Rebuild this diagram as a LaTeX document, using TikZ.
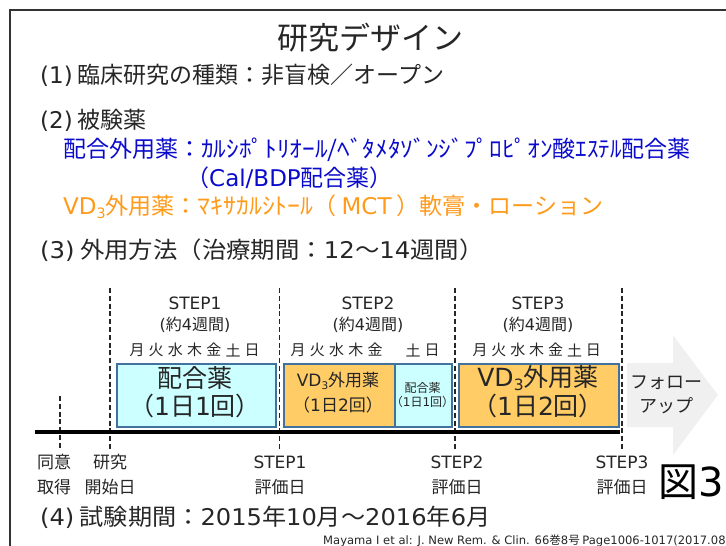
\documentclass[tikz,border=0pt]{standalone}
\usepackage{fontspec}
\setmainfont{Noto Sans CJK JP}
\newfontfamily\latf{DejaVu Sans}
\newcommand\lat[1]{{\latf #1}}
\definecolor{txtc}{HTML}{262626}
\definecolor{bluet}{HTML}{0A0ACC}
\definecolor{oranget}{HTML}{FF9A1A}
\definecolor{cyanf}{HTML}{CCFFFF}
\definecolor{orangef}{HTML}{FFCC66}
\definecolor{bordc}{HTML}{41719C}
\definecolor{arrowf}{HTML}{F0F0F0}
\newcommand\fs[1]{\fontsize{#1}{#1}\selectfont}
\newcommand\vdsub{\lat{VD\raisebox{-0.28ex}{\scalebox{0.62}{3}}}}
\newcommand\wide[2]{\scalebox{#1}[1]{#2}}
\begin{document}
\begin{tikzpicture}[x=1pt,y=-1pt,
  lbl/.style={inner sep=0pt,text=txtc},
  lft/.style={inner sep=0pt,anchor=west,text=txtc},
  dashv/.style={line width=1.8pt,dash pattern=on 5pt off 2.8pt,draw=txtc},
  cbox/.style={draw=bordc,line width=1.6pt,fill=cyanf,anchor=north west,inner sep=0pt},
  obox/.style={draw=bordc,line width=1.6pt,fill=orangef,anchor=north west,inner sep=0pt},
  day/.style={inner sep=0pt,text=txtc,font=\fs{15}}]
\useasboundingbox (0,0) rectangle (726,546);
% frame
\coordinate (fa) at (10,560);
\coordinate (fb) at (10,10);
\coordinate (fc) at (740,10);
\draw[line width=1.5pt,draw=black!80] (fa) -- (fb) -- (fc);
% texts
\node[lbl,font=\fs{31}] (title) at (370,38) {研究デザイン};
\node[lft,font=\fs{23}] (l1) at (40,75) {\lat{(1)} 臨床研究の種類：非盲検／オープン};
\node[lft,font=\fs{23}] (l2) at (40,120) {\lat{(2)} 被験薬};
\node[lft,font=\fs{23},text=bluet] (l2a) at (63,150) {配合外用薬：\wide{1.1}{ｶﾙｼﾎﾟﾄﾘｵｰﾙ/ﾍﾞﾀﾒﾀｿﾞﾝｼﾞﾌﾟﾛﾋﾟｵﾝ}酸ｴｽﾃﾙ配合薬};
\node[lft,font=\fs{23},text=bluet] (l2b) at (186,178) {（\lat{Cal/BDP}配合薬）};
\node[lft,font=\fs{23},text=oranget] (l2c) at (63,207) {\vdsub 外用薬：\wide{1.12}{ﾏｷｻｶﾙｼﾄｰﾙ}（\hspace{5pt}\lat{MCT}\hspace{5pt}）軟膏・ローション};
\node[lft,font=\fs{23}] (l3) at (40,250) {\wide{1.06}{\lat{(3)} 外用方法（治療期間：\lat{12}〜\lat{14}週間）}};
\node[lft,font=\fs{23}] (l4) at (40,517) {\wide{1.05}{\lat{(4)} 試験期間：\lat{2015}年\lat{10}月〜\lat{2016}年\lat{6}月}};
\node[inner sep=0pt,anchor=west,font=\fs{11.55},text=txtc] (cite) at (323,541) {\lat{Mayama I et al: J. New Rem. \& Clin. 66}巻\lat{8}号 \lat{Page1006-1017(2017.08)}};
% follow-up arrow
\fill[arrowf] (627,363) -- (673,363) -- (673,335) -- (718,395) -- (673,455) -- (673,427) -- (627,427) -- cycle;
\node[lbl,font=\fs{18}] (fu1) at (666,383) {フォロー};
\node[lbl,font=\fs{18}] (fu2) at (666,406) {アップ};
% boxes
\node[cbox,minimum width=159pt,minimum height=63pt] (b1) at (116,363) {};
\node[obox,minimum width=111pt,minimum height=63pt] (b2) at (283,363) {};
\node[cbox,minimum width=57pt,minimum height=63pt] (b2s) at (394,363) {};
\node[obox,minimum width=160pt,minimum height=63pt] (b3) at (458,363) {};
\node[lbl,font=\fs{25}] (b1t1) at (195,378) {配合薬};
\node[lbl,font=\fs{25}] (b1t2) at (195,406) {（\lat{1}日\lat{1}回）};
\node[lbl,font=\fs{17}] (b2t1) at (338,381) {\vdsub 外用薬};
\node[lbl,font=\fs{17}] (b2t2) at (338,405) {（\lat{1}日\lat{2}回）};
\node[lbl,font=\fs{12}] (b2st1) at (422.5,388) {配合薬};
\node[lbl,font=\fs{12}] (b2st2) at (422.5,402) {（\lat{1}日\lat{1}回）};
\node[lbl,font=\fs{25}] (b3t1) at (538,378) {\vdsub 外用薬};
\node[lbl,font=\fs{25}] (b3t2) at (538,406) {（\lat{1}日\lat{2}回）};
% step labels
\node[lbl,font=\fs{17}] (s1) at (195,303) {\lat{STEP1}};
\node[lbl,font=\fs{16}] (s1w) at (195,325) {\lat{(}約\lat{4}週間\lat{)}};
\node[lbl,font=\fs{17}] (s2) at (368,303) {\lat{STEP2}};
\node[lbl,font=\fs{16}] (s2w) at (368,325) {\lat{(}約\lat{4}週間\lat{)}};
\node[lbl,font=\fs{17}] (s3) at (538,303) {\lat{STEP3}};
\node[lbl,font=\fs{16}] (s3w) at (538,325) {\lat{(}約\lat{4}週間\lat{)}};
% days
\foreach \d [count=\i from 0] in {月,火,水,木,金,土,日}
  \node[day] (da\i) at (137+\i*19.2,350) {\d};
\foreach \d [count=\i from 0] in {月,火,水,木,金}
  \node[day] (db\i) at (298+\i*19.25,350) {\d};
\node[day] (db5) at (413,350) {土};
\node[day] (db6) at (432,350) {日};
\foreach \d [count=\i from 0] in {月,火,水,木,金,土,日}
  \node[day] (dc\i) at (480+\i*18.9,350) {\d};
% dashed lines
\coordinate (v0t) at (60,396); \coordinate (v0b) at (60,449);
\coordinate (v1t) at (110,288); \coordinate (v1b) at (110,449);
\coordinate (v2t) at (279.5,288); \coordinate (v2b) at (279.5,449);
\coordinate (v3t) at (455,288); \coordinate (v3b) at (455,449);
\coordinate (v4t) at (622,288); \coordinate (v4b) at (622,449);
\foreach \k in {0,...,4} \draw[dashv] (v\k t) -- (v\k b);
% timeline
\coordinate (tl0) at (35,432);
\coordinate (tl1) at (620,432);
\draw[line width=4.5pt,draw=black] (tl0) -- (tl1);
% bottom labels
\node[lbl,font=\fs{17}] (e0a) at (54,462) {同意};
\node[lbl,font=\fs{17}] (e0b) at (54,487) {取得};
\node[lbl,font=\fs{17}] (e1a) at (110,462) {研究};
\node[lbl,font=\fs{17}] (e1b) at (110,487) {開始日};
\node[lbl,font=\fs{17}] (e2a) at (280,462) {\lat{STEP1}};
\node[lbl,font=\fs{17}] (e2b) at (280,487) {評価日};
\node[lbl,font=\fs{17}] (e3a) at (457,462) {\lat{STEP2}};
\node[lbl,font=\fs{17}] (e3b) at (457,487) {評価日};
\node[lbl,font=\fs{17}] (e4a) at (622,462) {\lat{STEP3}};
\node[lbl,font=\fs{17}] (e4b) at (622,487) {評価日};
\node[inner sep=0pt,anchor=east,font=\fs{40},text=black] (fig) at (724,482) {図\lat{3}};
\end{tikzpicture}
\end{document}
